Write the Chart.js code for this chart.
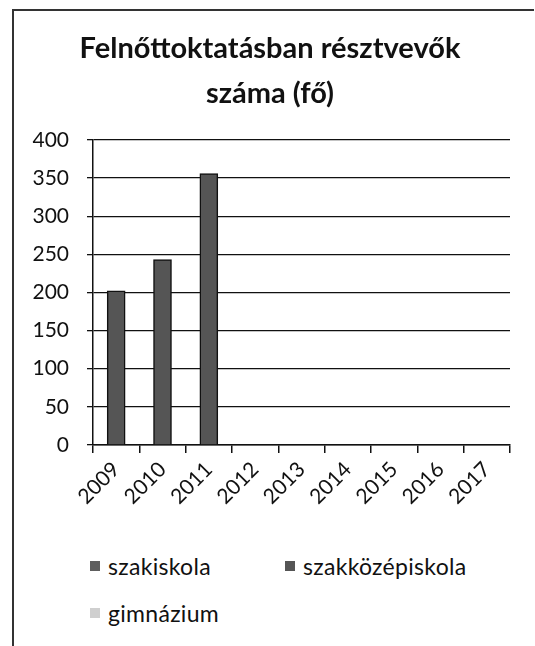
<!DOCTYPE html>
<html>
<head>
<meta charset="utf-8">
<script src="https://cdn.jsdelivr.net/npm/chart.js@4"></script>
<style>
  body { margin: 0; background: #fff; }
  #wrap { position: relative; width: 535px; height: 646px; overflow: hidden; }
  #frame { position: absolute; left: 12px; top: 9px; width: 520px; height: 640px;
           border-left: 2px solid #333; border-top: 2px solid #333; }
  #chartBox { position: absolute; left: 0; top: 0; width: 535px; height: 520px; }
  .leg { position: absolute; font-family: Lato, sans-serif; font-size: 23px; letter-spacing: 0.3px;
         color: #111; display: flex; align-items: center; }
  .leg span.box { width: 10px; height: 10px; margin-right: 8px; display: inline-block; }
</style>
</head>
<body>
<div id="wrap">
  <div id="frame"></div>
  <div id="chartBox"><canvas id="myChart" width="535" height="520"></canvas></div>
  <div id="legend"></div>
</div>
<script>
const years = ['2009', '2010', '2011', '2012', '2013', '2014', '2015', '2016', '2017'];
const szakiskola = [null, null, null, null, null, null, null, null, null];
const szakkozep = [202, 243, 356, null, null, null, null, null, null];
const gimnazium = [null, null, null, null, null, null, null, null, null];
const seriesNames = ['szakiskola', 'szakközépiskola', 'gimnázium'];
const yTicks = [0, 50, 100, 150, 200, 250, 300, 350, 400];

const colors = ['#5e5e5e', '#555555', '#cfcfcf'];

const ctx = document.getElementById('myChart');

new Chart(ctx, {
  type: 'bar',
  data: {
    labels: years,
    datasets: [szakiskola, szakkozep, gimnazium].map((d, i) => ({
      label: seriesNames[i],
      data: d,
      backgroundColor: colors[i],
      borderColor: '#111',
      borderWidth: 1.5,
      barThickness: 18,
      grouped: false
    }))
  },
  options: {
    responsive: false,
    animation: false,
    layout: {
      padding: { left: 30, right: 25, top: 12, bottom: 0 }
    },
    plugins: {
      legend: { display: false },
      tooltip: { enabled: false },
      title: {
        display: true,
        text: ['Felnőttoktatásban résztvevők', 'száma (fő)'],
        color: '#111',
        font: { family: 'Lato', size: 29, weight: 'bold', lineHeight: 1.55 },
        padding: { top: 14, bottom: 24 }
      }
    },
    scales: {
      x: {
        afterFit: function(scale) { scale.height = 75; },
        border: { display: true, color: '#111', width: 1.5 },
        grid: { drawOnChartArea: false, drawTicks: true, tickLength: 8, color: '#111', lineWidth: 1.5 },
        ticks: {
          color: '#111',
          font: { family: 'Lato', size: 21 },
          minRotation: 45,
          maxRotation: 45,
          padding: 4
        }
      },
      y: {
        min: 0,
        max: 400,
        afterFit: function(scale) { scale.width = 63; },
        afterBuildTicks: function(scale) { scale.ticks = yTicks.map(v => ({ value: v })); },
        border: { display: true, color: '#111', width: 1.5 },
        grid: { color: '#111', lineWidth: 1.3, tickLength: 6 },
        ticks: {
          color: '#111',
          font: { family: 'Lato', size: 21 },
          padding: 18
        }
      }
    }
  }
});

// legend laid out like the original (two columns)
const legendPos = [[90, 566], [285, 566], [90, 613]];
const legendEl = document.getElementById('legend');
seriesNames.forEach((name, i) => {
  const d = document.createElement('div');
  d.className = 'leg';
  d.style.left = legendPos[i][0] + 'px';
  d.style.top = (legendPos[i][1] - 14) + 'px';
  d.innerHTML = '<span class="box" style="background:' + colors[i] + '"></span>' + name;
  legendEl.appendChild(d);
});
</script>
</body>
</html>
